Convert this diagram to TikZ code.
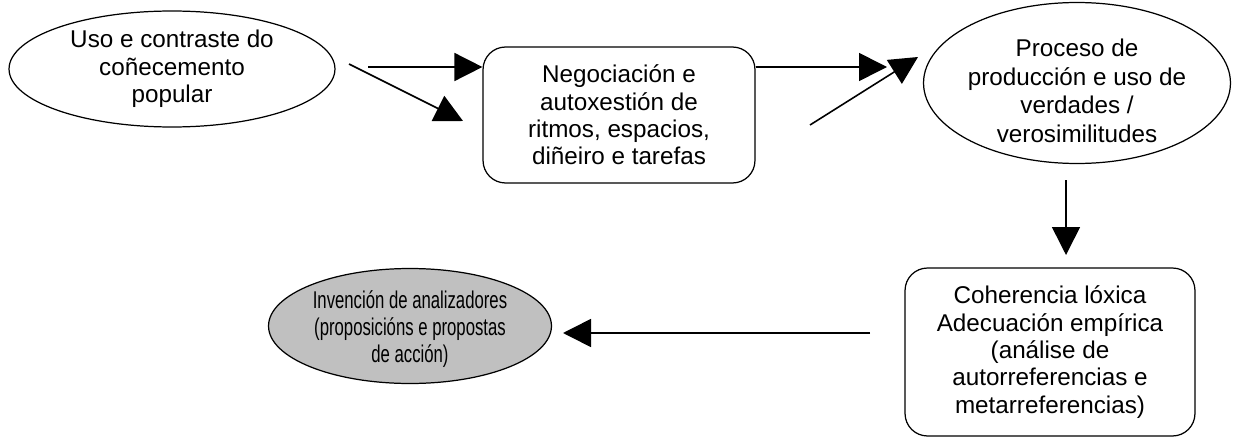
\documentclass[tikz,border=0pt]{standalone}
\usepackage{fontspec}
\setmainfont{Liberation Sans}
\usepackage{graphicx}
\usepackage{tikz}
\usetikzlibrary{arrows.meta,shapes.geometric}
\definecolor{silvergray}{RGB}{192,192,192}

\tikzset{
    oval/.style={draw, ellipse, line width=0.7pt, inner sep=0pt, align=center, fill=white},
    roundbox/.style={draw, rectangle, rounded corners=0.45cm, line width=0.7pt, inner sep=0pt, align=center, fill=white},
    arr/.style={line width=0.9pt, -{Triangle[length=0.56cm,width=0.56cm]}},
    txt/.style={font=\fontsize{13.8}{15.6}\selectfont}
}

\begin{document}
\begin{tikzpicture}[x=0.02cm, y=-0.02cm]
        \useasboundingbox (0,0) rectangle (1234,439);

        \node[oval, txt, minimum width=6.52cm, minimum height=2.32cm] (uso) at (172,69) {Uso e contraste do\\coñecemento\\popular};
        \node[roundbox, txt, minimum width=5.44cm, minimum height=2.72cm] (neg) at (619,115) {Negociación e\\autoxestión de\\ritmos, espacios,\\diñeiro e tarefas};
        \node[oval, txt, minimum width=6.14cm, minimum height=3.22cm] (proc) at (1077,83) {};
        \node[txt, align=center, font=\fontsize{13.8}{16.2}\selectfont] (proctext) at (1077,91) {Proceso de\\producción e uso de\\verdades /\\verosimilitudes};
        \node[roundbox, txt, minimum width=5.8cm, minimum height=3.36cm] (coh) at (1050,352) {Coherencia lóxica\\Adecuación empírica\\(análise de\\autorreferencias e\\metarreferencias)};
        \node[oval, fill=silvergray, minimum width=5.66cm, minimum height=2.3cm] (inv) at (410,326) {};
        \node[txt] (invtext) at (410,330) {\scalebox{0.69}[1]{\begin{tabular}{@{}c@{}}Invención de analizadores\\(proposicións e propostas\\de acción)\end{tabular}}};

        % free ends of the arrows
        \coordinate (u1) at (368,67);
        \coordinate (u2) at (349,64);
        \coordinate (n2) at (463,121);
        \coordinate (p1) at (887,67);
        \coordinate (p2) at (810,125);
        \coordinate (p3) at (918,57);
        \coordinate (c1) at (1066,180);
        \coordinate (c2) at (1066,255);
        \coordinate (i1) at (870,333);
        \coordinate (i2) at (563,333);

        \draw[arr] (u1) -- (u1 -| neg.west);
        \draw[arr] (u2) -- (n2);
        \draw[arr] (p1 -| neg.east) -- (p1);
        \draw[arr] (p2) -- (p3);
        \draw[arr] (c1) -- (c2);
        \draw[arr] (i1) -- (i2);
\end{tikzpicture}
\end{document}
